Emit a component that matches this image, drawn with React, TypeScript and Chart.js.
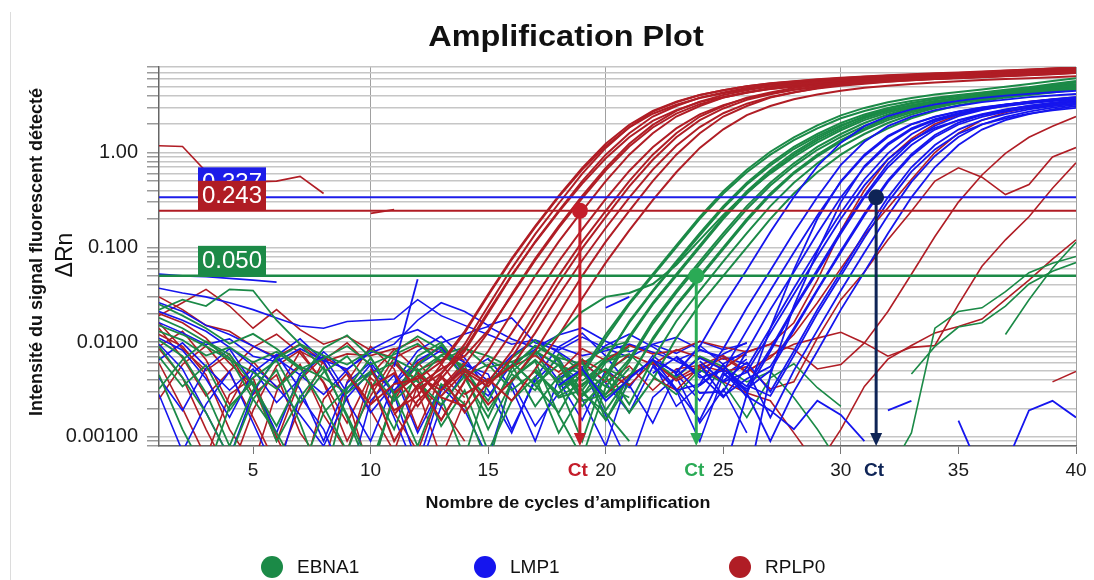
import React, { useEffect, useRef } from "react";
import { Chart, registerables } from "chart.js";

Chart.register(...registerables);

const FONT = '"Liberation Sans", Arial, Helvetica, sans-serif';

// ---------------- axes ----------------
const cycleRange = [1, 40];
const xTickValues = [5, 10, 15, 20, 25, 30, 35, 40];
const xGridValues = [10, 20, 30, 40];
const deltaRnRange = [0.0008, 8];
const yLabelValues = [1, 0.1, 0.01, 0.001];
const yLabelTexts = ["1.00", "0.100", "0.0100", "0.00100"];

// ---------------- legend / thresholds / Ct ----------------
const targets = ["EBNA1", "LMP1", "RPLP0"];
const thresholdTargets = ["LMP1", "RPLP0", "EBNA1"];
const thresholdValues = [0.337, 0.243, 0.05];
const thresholdTexts = ["0.337", "0.243", "0.050"];
const ctTargets = ["RPLP0", "EBNA1", "LMP1"];
const ctCycles = [18.9, 23.85, 31.5];
const ctLevels = [0.243, 0.05, 0.337];
const ctText = "Ct";

// ---------------- RPLP0 curves (ΔRn per cycle, from start cycle) ----------------
const rplp0Starts = [9, 10, 10, 11, 11, 11, 12, 12, 13, 13, 14, 14, 10, 13];
const rplp0Curves = [
  [0.0045, 0.0022, 0.0036, 0.0041, 0.0062, 0.013, 0.032, 0.076, 0.167, 0.35, 0.69, 1.24, 1.96, 2.75, 3.45, 4.05, 4.55, 5.0, 5.35, 5.62, 5.88, 6.1, 6.3, 6.48, 6.62, 6.78, 6.92, 7.1, 7.3, 7.5, 7.7, 7.9],
  [0.0052, 0.0019, 0.0027, 0.0058, 0.0125, 0.031, 0.074, 0.163, 0.34, 0.66, 1.17, 1.84, 2.57, 3.2, 3.76, 4.23, 4.65, 4.98, 5.23, 5.47, 5.67, 5.86, 6.03, 6.16, 6.31, 6.44, 6.6, 6.79, 6.98, 7.16, 7.35],
  [0.0038, 0.0009, 0.0024, 0.0041, 0.008, 0.02, 0.05, 0.115, 0.243, 0.5, 0.95, 1.6, 2.4, 3.1, 3.8, 4.3, 4.8, 5.2, 5.5, 5.75, 6.0, 6.2, 6.4, 6.55, 6.7, 6.85, 7.0, 7.2, 7.4, 7.6, 7.8],
  [0.0061, 0.0032, 0.0047, 0.0085, 0.021, 0.051, 0.113, 0.236, 0.47, 0.87, 1.45, 2.16, 2.8, 3.42, 3.87, 4.32, 4.68, 4.95, 5.18, 5.4, 5.58, 5.76, 5.9, 6.03, 6.17, 6.3, 6.48, 6.66, 6.84, 7.02],
  [0.0029, 0.0044, 0.0031, 0.0058, 0.0127, 0.032, 0.076, 0.167, 0.35, 0.69, 1.24, 1.96, 2.75, 3.45, 4.05, 4.55, 5.0, 5.35, 5.62, 5.88, 6.1, 6.3, 6.48, 6.62, 6.78, 6.92, 7.1, 7.3, 7.5, 7.7],
  [0.0017, 0.0035, 0.0052, 0.0071, 0.0133, 0.031, 0.073, 0.16, 0.33, 0.65, 1.16, 1.84, 2.58, 3.24, 3.8, 4.27, 4.7, 5.03, 5.28, 5.52, 5.73, 5.92, 6.09, 6.22, 6.37, 6.5, 6.67, 6.86, 7.05, 7.24],
  [0.0036, 0.0015, 0.0039, 0.008, 0.02, 0.05, 0.115, 0.243, 0.5, 0.95, 1.6, 2.4, 3.1, 3.8, 4.3, 4.8, 5.2, 5.5, 5.75, 6.0, 6.2, 6.4, 6.55, 6.7, 6.85, 7.0, 7.2, 7.4, 7.6],
  [0.0048, 0.0026, 0.0021, 0.0055, 0.0125, 0.03, 0.071, 0.155, 0.325, 0.64, 1.14, 1.8, 2.53, 3.17, 3.73, 4.19, 4.6, 4.92, 5.17, 5.41, 5.61, 5.8, 5.96, 6.09, 6.24, 6.37, 6.53, 6.72, 6.9],
  [0.0044, 0.0018, 0.0038, 0.008, 0.02, 0.05, 0.115, 0.243, 0.5, 0.95, 1.6, 2.4, 3.1, 3.8, 4.3, 4.8, 5.2, 5.5, 5.75, 6.0, 6.2, 6.4, 6.55, 6.7, 6.85, 7.0, 7.2, 7.4],
  [0.0031, 0.0052, 0.0037, 0.0055, 0.0125, 0.031, 0.073, 0.16, 0.335, 0.66, 1.18, 1.86, 2.6, 3.28, 3.85, 4.32, 4.75, 5.08, 5.34, 5.59, 5.8, 5.99, 6.16, 6.29, 6.44, 6.57, 6.75, 6.94],
  [0.0046, 0.0022, 0.0039, 0.008, 0.02, 0.05, 0.115, 0.243, 0.5, 0.95, 1.6, 2.4, 3.1, 3.8, 4.3, 4.8, 5.2, 5.5, 5.75, 6.0, 6.2, 6.4, 6.55, 6.7, 6.85, 7.0, 7.2],
  [0.0028, 0.0041, 0.0024, 0.0052, 0.0118, 0.029, 0.069, 0.151, 0.315, 0.62, 1.12, 1.76, 2.48, 3.1, 3.65, 4.1, 4.5, 4.82, 5.06, 5.29, 5.49, 5.67, 5.83, 5.96, 6.1, 6.23, 6.39],
  [0.0033, 0.0047, 0.0021, 0.0046, 0.0095, 0.024, 0.06, 0.138, 0.29, 0.6, 1.12, 1.85, 2.7, 3.4, 4.05, 4.55, 5.0, 5.38, 5.67, 5.93, 6.16, 6.36, 6.55, 6.71, 6.86, 7.01, 7.16, 7.34, 7.53, 7.72, 7.92],
  [0.0027, 0.0049, 0.0034, 0.0068, 0.017, 0.042, 0.098, 0.21, 0.44, 0.84, 1.45, 2.2, 2.92, 3.6, 4.12, 4.6, 5.0, 5.32, 5.58, 5.82, 6.03, 6.22, 6.38, 6.53, 6.68, 6.83, 7.02, 7.2],
];
const rplp0LateStarts = [18, 16, 20, 22, 19, 20, 39, 1, 10];
const rplp0Late = [
  [0.0045, 0.0062, 0.0038, 0.0056, 0.0031, 0.0052, 0.0057, 0.0049, 0.0055, 0.0032, 0.0038, 0.011, 0.028, 0.055, 0.12, 0.24, 0.5, 0.69, 0.55, 0.36, 0.46, 0.9, 1.13],
  [0.0055, 0.0072, 0.0048, 0.0085, 0.0064, 0.0092, 0.0075, 0.0081, 0.0102, 0.0088, 0.0079, 0.0095, 0.0084, 0.0052, 0.0058, 0.0098, 0.021, 0.052, 0.13, 0.3, 0.58, 0.98, 1.45, 1.9, 2.4],
  [0.0028, 0.0045, 0.0061, 0.0039, 0.0052, 0.0068, 0.0048, 0.0072, 0.0095, 0.011, 0.0127, 0.0098, 0.0071, 0.0088, 0.0092, 0.025, 0.063, 0.12, 0.21, 0.42, 0.78],
  [0.0042, 0.0031, 0.0055, 0.0038, 0.0029, 0.0024, 0.0011, 0.0005, 0.0012, 0.0034, 0.0066, 0.0092, 0.0125, 0.0146, 0.0175, 0.028, 0.045, 0.075, 0.12],
  [0.0065, 0.0048, 0.0074, 0.0058, 0.0083, 0.0069, 0.0052, 0.0078, 0.0095, 0.016, 0.045, 0.15, 0.4, 0.85, 1.4, 2.0, 2.5, 2.9, 3.2, 3.45, 3.65, 3.8],
  [0.0048, 0.0035, 0.0062, 0.0041, 0.0057, 0.0072, 0.0049, 0.0068, 0.012, 0.026, 0.06, 0.135, 0.26, 0.52, 1.0, 1.6, 2.2, 2.65, 3.0, 3.25, 3.45],
  [0.0038, 0.0049],
  [1.18, 1.16, 0.63, 0.52, 0.49, 0.5, 0.56, 0.37],
  [0.228, 0.25],
];
const rplp0Noise = [
  [0.02, 0.016, 0.011, 0.006, 0.0035, 0.0009, 0.004, 0.007, 0.005, 0.0022, 0.006, 0.004, 0.0015, 0.0038],
  [0.012, 0.009, 0.0045, 0.0012, 0.0005, 0.003, 0.008, 0.006, 0.0026, 0.0004, 0.003, 0.006, 0.009, 0.0048],
  [0.03, 0.022, 0.015, 0.013, 0.009, 0.007, 0.0095, 0.0062, 0.0075, 0.0072, 0.0085, 0.005, 0.0065, 0.0071],
  [0.006, 0.002, 0.0006, 0.0028, 0.0042, 0.001, 0.0003, 0.0025, 0.0047, 0.0019, 0.0007, 0.0035, 0.0021, 0.0009],
  [0.016, 0.0085, 0.005, 0.0075, 0.0028, 0.0045, 0.0011, 0.0005, 0.0038, 0.009, 0.0052, 0.0012, 0.0044, 0.0026],
  [0.009, 0.013, 0.0065, 0.0022, 0.0062, 0.0033, 0.0058, 0.0017, 0.0007, 0.0042, 0.0024, 0.0061, 0.0033, 0.0052],
  [0.019, 0.026, 0.036, 0.024, 0.014, 0.022, 0.0135, 0.0095, 0.0115, 0.0082, 0.0068, 0.0091, 0.0078, 0.0064],
  [0.0085, 0.0042, 0.0012, 0.0004, 0.0019, 0.0056, 0.0082, 0.0037, 0.0009, 0.0027, 0.0068, 0.0031, 0.0006, 0.0024],
  [0.0025, 0.0058, 0.0091, 0.0047, 0.0016, 0.0005, 0.0021, 0.0064, 0.0098, 0.0056, 0.0018, 0.0007, 0.0033, 0.0062],
  [0.014, 0.0068, 0.0027, 0.0049, 0.0088, 0.0121, 0.0076, 0.0038, 0.0014, 0.0045, 0.0083, 0.0107, 0.0059, 0.0028],
];

// ---------------- EBNA1 curves ----------------
const ebna1Starts = [17, 16, 17, 16, 18, 17, 18, 18, 19, 18, 19, 20, 17];
const ebna1Curves = [
  [0.0048, 0.0029, 0.0045, 0.011, 0.025, 0.05, 0.1, 0.2, 0.37, 0.62, 0.95, 1.35, 1.8, 2.3, 2.75, 3.15, 3.5, 3.8, 4.05, 4.3, 4.6, 4.9, 5.3, 5.7],
  [0.0062, 0.0035, 0.0018, 0.0049, 0.012, 0.026, 0.052, 0.105, 0.21, 0.39, 0.66, 1.02, 1.45, 1.94, 2.47, 2.96, 3.39, 3.77, 4.1, 4.37, 4.64, 4.96, 5.3, 5.68, 6.1],
  [0.0052, 0.0026, 0.0031, 0.0066, 0.0166, 0.035, 0.071, 0.141, 0.272, 0.48, 0.77, 1.15, 1.57, 2.05, 2.52, 2.95, 3.33, 3.65, 3.92, 4.17, 4.45, 4.75, 5.02, 5.5],
  [0.0041, 0.0065, 0.0038, 0.0034, 0.0068, 0.016, 0.034, 0.068, 0.134, 0.26, 0.46, 0.73, 1.09, 1.49, 1.95, 2.39, 2.8, 3.16, 3.47, 3.72, 3.96, 4.23, 4.51, 4.77, 5.1],
  [0.0044, 0.0021, 0.004, 0.011, 0.025, 0.05, 0.1, 0.2, 0.37, 0.62, 0.95, 1.35, 1.8, 2.3, 2.75, 3.15, 3.5, 3.8, 4.05, 4.3, 4.6, 4.9, 5.3],
  [0.0036, 0.0058, 0.0027, 0.0045, 0.0115, 0.026, 0.052, 0.105, 0.21, 0.39, 0.65, 1.0, 1.42, 1.89, 2.42, 2.89, 3.31, 3.68, 3.99, 4.25, 4.52, 4.83, 5.15, 5.56],
  [0.0033, 0.0049, 0.0034, 0.0066, 0.0166, 0.035, 0.071, 0.141, 0.272, 0.48, 0.77, 1.15, 1.57, 2.05, 2.52, 2.95, 3.33, 3.65, 3.92, 4.17, 4.45, 4.75, 5.02],
  [0.0057, 0.0024, 0.0028, 0.0062, 0.0155, 0.033, 0.066, 0.131, 0.253, 0.45, 0.72, 1.07, 1.46, 1.91, 2.34, 2.74, 3.1, 3.39, 3.65, 3.88, 4.14, 4.42, 4.67],
  [0.0047, 0.0026, 0.004, 0.011, 0.025, 0.05, 0.1, 0.2, 0.37, 0.62, 0.95, 1.35, 1.8, 2.3, 2.75, 3.15, 3.5, 3.8, 4.05, 4.3, 4.6, 4.9],
  [0.0039, 0.0061, 0.0019, 0.0043, 0.0105, 0.024, 0.048, 0.096, 0.19, 0.355, 0.6, 0.91, 1.3, 1.73, 2.2, 2.64, 3.02, 3.36, 3.65, 3.89, 4.13, 4.42, 4.7],
  [0.0035, 0.0052, 0.0022, 0.0066, 0.0166, 0.035, 0.071, 0.141, 0.272, 0.48, 0.77, 1.15, 1.57, 2.05, 2.52, 2.95, 3.33, 3.65, 3.92, 4.17, 4.45, 4.75],
  [0.0043, 0.0018, 0.004, 0.011, 0.025, 0.05, 0.1, 0.2, 0.37, 0.62, 0.95, 1.35, 1.8, 2.3, 2.75, 3.15, 3.5, 3.8, 4.05, 4.3, 4.6],
  [0.0075, 0.012, 0.021, 0.03, 0.033, 0.041, 0.065, 0.12, 0.22, 0.38, 0.6, 0.9, 1.28, 1.72, 2.2, 2.65, 3.05, 3.4, 3.7, 3.95, 4.2, 4.48, 4.78, 5.1],
];
const ebna1LateStarts = [22, 33, 37, 15];
const ebna1Late = [
  [0.0064, 0.0042, 0.0071, 0.0055, 0.0038, 0.0049, 0.0026, 0.0012, 0.0005, 0.0003, 0.0004, 0.0011, 0.014, 0.021, 0.023, 0.034, 0.054, 0.068, 0.08],
  [0.0046, 0.009, 0.0144, 0.016, 0.024, 0.041, 0.056, 0.069],
  [0.012, 0.028, 0.06, 0.113],
  [0.0065, 0.0048, 0.0081, 0.0057, 0.0039, 0.0062, 0.0075, 0.0044, 0.0028, 0.0051, 0.0037, 0.0016, 0.0042, 0.0059, 0.0033, 0.0021],
];
const ebna1Noise = [
  [0.015, 0.012, 0.009, 0.0065, 0.0048, 0.0032, 0.0055, 0.0042, 0.0029, 0.0046, 0.0061, 0.0038, 0.0022, 0.0044, 0.0058, 0.0031, 0.0049, 0.0027, 0.0036, 0.0052, 0.0041],
  [0.009, 0.0042, 0.0018, 0.0006, 0.0025, 0.0051, 0.0014, 0.0003, 0.0032, 0.0068, 0.0029, 0.0008, 0.0036, 0.0022, 0.0005, 0.0041, 0.0063, 0.0017, 0.0006, 0.0034, 0.0026],
  [0.022, 0.028, 0.024, 0.036, 0.035, 0.017, 0.0095, 0.0072, 0.0058, 0.0081, 0.0066, 0.0049, 0.0073, 0.0088, 0.0054, 0.0062, 0.0079, 0.0057, 0.0046, 0.0069, 0.0083],
  [0.0045, 0.0012, 0.0004, 0.0021, 0.0038, 0.0009, 0.0026, 0.0055, 0.0016, 0.0004, 0.0028, 0.0047, 0.0013, 0.0031, 0.0007, 0.0024, 0.0043, 0.0011, 0.0029, 0.0018, 0.0009],
  [0.013, 0.0105, 0.0072, 0.0088, 0.0061, 0.0079, 0.0052, 0.0067, 0.0091, 0.0058, 0.0074, 0.0096, 0.0063, 0.0085, 0.0071, 0.0054, 0.0092, 0.0068, 0.0059, 0.0087, 0.0102],
  [0.007, 0.0034, 0.0057, 0.0019, 0.0042, 0.0064, 0.0023, 0.0048, 0.0071, 0.0035, 0.0012, 0.0052, 0.0026, 0.0006, 0.0039, 0.0057, 0.0021, 0.0044, 0.0066, 0.0015, 0.0037],
  [0.018, 0.014, 0.01, 0.0068, 0.0025, 0.0011, 0.0004, 0.0018, 0.0033, 0.0049, 0.0024, 0.0041, 0.0072, 0.0056, 0.0019, 0.0046, 0.0031, 0.0075, 0.0048, 0.0028, 0.0053],
  [0.0105, 0.0071, 0.0029, 0.0008, 0.0031, 0.0067, 0.0094, 0.0052, 0.0017, 0.0005, 0.0026, 0.0071, 0.0099, 0.0046, 0.0012, 0.0038, 0.0077, 0.0035, 0.0009, 0.0048, 0.0072],
  [0.0032, 0.0065, 0.0102, 0.0074, 0.0035, 0.0013, 0.0041, 0.0086, 0.0118, 0.0069, 0.0028, 0.0057, 0.0093, 0.0051, 0.0024, 0.0068, 0.0105, 0.0062, 0.0031, 0.0015, 0.0044],
  [0.025, 0.019, 0.014, 0.0096, 0.0122, 0.0085, 0.0054, 0.0021, 0.0007, 0.0032, 0.0078, 0.0115, 0.0083, 0.0042, 0.0016, 0.0053, 0.0091, 0.0066, 0.0027, 0.0061, 0.0089],
];

// ---------------- LMP1 curves ----------------
const lmp1Starts = [21, 22, 22, 23, 23, 24, 24, 23, 25, 24, 25, 26, 26, 26, 26, 25];
const lmp1Curves = [
  [0.0042, 0.0065, 0.0048, 0.009, 0.024, 0.058, 0.145, 0.34, 0.72, 1.27, 1.9, 2.43, 2.86, 3.22, 3.52, 3.77, 3.98, 4.17, 4.33, 4.48],
  [0.0058, 0.0031, 0.0036, 0.0085, 0.023, 0.057, 0.143, 0.34, 0.74, 1.3, 1.9, 2.4, 2.8, 3.12, 3.4, 3.62, 3.84, 4.0, 4.15],
  [0.0047, 0.0069, 0.0042, 0.005, 0.0133, 0.035, 0.088, 0.217, 0.49, 0.92, 1.46, 1.98, 2.38, 2.7, 2.98, 3.2, 3.4, 3.58, 3.72],
  [0.0052, 0.0029, 0.003, 0.008, 0.022, 0.055, 0.14, 0.337, 0.7, 1.2, 1.75, 2.2, 2.55, 2.85, 3.1, 3.3, 3.5, 3.65],
  [0.0071, 0.0045, 0.0026, 0.0054, 0.014, 0.037, 0.094, 0.232, 0.52, 0.98, 1.56, 2.12, 2.55, 2.9, 3.2, 3.44, 3.66, 3.85],
  [0.0063, 0.0038, 0.0048, 0.0125, 0.032, 0.081, 0.2, 0.45, 0.85, 1.34, 1.82, 2.19, 2.48, 2.74, 2.94, 3.13, 3.29],
  [0.0035, 0.0057, 0.003, 0.008, 0.022, 0.055, 0.14, 0.337, 0.7, 1.2, 1.75, 2.2, 2.55, 2.85, 3.1, 3.3, 3.5],
  [0.0044, 0.0068, 0.0051, 0.0034, 0.0085, 0.023, 0.058, 0.148, 0.35, 0.76, 1.32, 1.92, 2.42, 2.8, 3.13, 3.41, 3.63, 3.85],
  [0.0046, 0.0032, 0.005, 0.0133, 0.035, 0.088, 0.217, 0.49, 0.92, 1.46, 1.98, 2.38, 2.7, 2.98, 3.2, 3.4],
  [0.0058, 0.0027, 0.0041, 0.0055, 0.014, 0.036, 0.092, 0.227, 0.51, 0.96, 1.53, 2.07, 2.5, 2.83, 3.12, 3.36, 3.57],
  [0.0039, 0.0061, 0.003, 0.008, 0.022, 0.055, 0.14, 0.337, 0.7, 1.2, 1.75, 2.2, 2.55, 2.85, 3.1, 3.3],
  [0.0035, 0.0027, 0.0072, 0.02, 0.05, 0.126, 0.3, 0.63, 1.08, 1.58, 1.98, 2.3, 2.57, 2.79, 2.97],
  [0.0051, 0.0016, 0.005, 0.0133, 0.035, 0.088, 0.217, 0.49, 0.92, 1.46, 1.98, 2.38, 2.7, 2.98, 3.2],
  [0.0029, 0.0009, 0.003, 0.008, 0.022, 0.055, 0.14, 0.337, 0.7, 1.2, 1.75, 2.2, 2.55, 2.85, 3.1],
  [0.0003, 0.0045, 0.024, 0.09, 0.3, 0.72, 1.25, 1.8, 2.25, 2.6, 2.9, 3.15, 3.36, 3.55, 3.7],
  [0.0004, 0.0028, 0.014, 0.058, 0.2, 0.5, 0.95, 1.5, 2.0, 2.4, 2.72, 3.0, 3.22, 3.42, 3.6, 3.75],
];
const lmp1FragmentStarts = [1, 11, 20, 32, 35, 37, 18];
const lmp1Fragments = [
  [0.052, 0.05, 0.049, 0.047, 0.045, 0.043],
  [0.0055, 0.046],
  [0.023, 0.03],
  [0.0019, 0.0024],
  [0.00148, 0.0004],
  [0.0005, 0.0019, 0.0024, 0.0016],
  [0.0035, 0.0052, 0.0024, 0.0041, 0.0066, 0.0032, 0.0015, 0.0048, 0.0027, 0.0019, 0.0012, 0.0024, 0.0017, 0.0009],
];
const lmp1Noise = [
  [0.037, 0.033, 0.03, 0.026, 0.022, 0.018, 0.0148, 0.014, 0.0165, 0.017, 0.0175, 0.028, 0.019, 0.015, 0.012, 0.0095, 0.0105, 0.0088, 0.0072, 0.0081, 0.0095, 0.0078, 0.0064, 0.0082, 0.007, 0.0058],
  [0.011, 0.0082, 0.0041, 0.0016, 0.0048, 0.0074, 0.0032, 0.0009, 0.0037, 0.0061, 0.0028, 0.0005, 0.0031, 0.0057, 0.0046, 0.0012, 0.0039, 0.0068, 0.0025, 0.0008, 0.0044, 0.0062, 0.0021, 0.0035, 0.0053, 0.0029],
  [0.0065, 0.0098, 0.0055, 0.0031, 0.0052, 0.0023, 0.0041, 0.0079, 0.0047, 0.0018, 0.0036, 0.0064, 0.0088, 0.0043, 0.0027, 0.0058, 0.0084, 0.0039, 0.0015, 0.0051, 0.0033, 0.0072, 0.0046, 0.0024, 0.0059, 0.0081],
  [0.0028, 0.0007, 0.0022, 0.0049, 0.0014, 0.0004, 0.0027, 0.0012, 0.0003, 0.0024, 0.0045, 0.0011, 0.0034, 0.0019, 0.0006, 0.0038, 0.0013, 0.0029, 0.0052, 0.0017, 0.0005, 0.0026, 0.0043, 0.0014, 0.0032, 0.0011],
  [0.016, 0.0125, 0.0094, 0.0108, 0.0071, 0.0062, 0.0085, 0.0064, 0.0052, 0.0077, 0.0095, 0.017, 0.026, 0.021, 0.015, 0.018, 0.0098, 0.0082, 0.0113, 0.0086, 0.0069, 0.0094, 0.0076, 0.0102, 0.0083, 0.0097],
  [0.0042, 0.0019, 0.0053, 0.0085, 0.0036, 0.0011, 0.0046, 0.0071, 0.0029, 0.0058, 0.0016, 0.0004, 0.0021, 0.0048, 0.0067, 0.0033, 0.0009, 0.0041, 0.0063, 0.0037, 0.0018, 0.0055, 0.0031, 0.0009, 0.0044, 0.0066],
  [0.021, 0.017, 0.013, 0.0088, 0.0056, 0.0034, 0.0017, 0.0008, 0.0026, 0.0049, 0.0031, 0.0057, 0.0082, 0.0061, 0.0039, 0.0072, 0.0105, 0.0078, 0.0054, 0.0092, 0.0121, 0.0089, 0.0063, 0.0048, 0.0075, 0.0099],
  [0.0095, 0.0052, 0.0018, 0.0006, 0.0029, 0.0072, 0.0108, 0.0063, 0.0024, 0.0009, 0.0037, 0.0081, 0.0115, 0.0068, 0.0031, 0.0011, 0.0042, 0.0089, 0.0124, 0.0071, 0.0035, 0.0014, 0.0047, 0.0092, 0.0058, 0.0026],
  [0.026, 0.021, 0.015, 0.012, 0.0091, 0.0067, 0.0045, 0.0028, 0.0051, 0.0083, 0.0112, 0.0135, 0.0098, 0.0122, 0.0146, 0.0108, 0.0087, 0.0119, 0.0141, 0.0102, 0.0079, 0.0095, 0.0112, 0.0084, 0.0066, 0.0073],
];

// ---------------- styles ----------------
const lineColors: Record<string, string> = { EBNA1: "#1b8a47", LMP1: "#1515ee", RPLP0: "#b01d25" };
const thresholdColors: Record<string, string> = { EBNA1: "#1c8a47", LMP1: "#1d1de8", RPLP0: "#b01c24" };
const ctColors: Record<string, string> = { RPLP0: "#c41d2a", EBNA1: "#2aaa55", LMP1: "#0e2456" };

const pts = (start: number, vals: number[]) => vals.map((v, i) => ({ x: start + i, y: v }));

function group(starts: number[], curves: number[][], target: string, width: number) {
  return curves.map((vals, i) => ({
    data: pts(starts[i], vals),
    borderColor: lineColors[target],
    borderWidth: width,
    pointRadius: 0,
    tension: 0,
    fill: false,
  }));
}

const annotationPlugin = {
  id: "qpcrAnnotations",
  afterDatasetsDraw(chart: any) {
    const { ctx, chartArea, scales } = chart;
    const xs = scales.x;
    const ys = scales.y;
    ctx.save();
    thresholdValues.forEach((v, i) => {
      const py = ys.getPixelForValue(v);
      const left = chartArea.left + 39;
      ctx.fillStyle = thresholdColors[thresholdTargets[i]];
      ctx.fillRect(left, py - 30, 68, 30);
      ctx.fillStyle = "#ffffff";
      ctx.font = `24px ${FONT}`;
      ctx.textAlign = "center";
      ctx.textBaseline = "middle";
      ctx.fillText(thresholdTexts[i], left + 34, py - 14);
    });
    ctCycles.forEach((c, i) => {
      const px = xs.getPixelForValue(c);
      const py = ys.getPixelForValue(ctLevels[i]);
      const bottom = chartArea.bottom;
      const col = ctColors[ctTargets[i]];
      ctx.strokeStyle = col;
      ctx.fillStyle = col;
      ctx.lineWidth = 3;
      ctx.beginPath();
      ctx.moveTo(px, py);
      ctx.lineTo(px, bottom - 10);
      ctx.stroke();
      ctx.beginPath();
      ctx.moveTo(px - 6, bottom - 13);
      ctx.lineTo(px + 6, bottom - 13);
      ctx.lineTo(px, bottom);
      ctx.closePath();
      ctx.fill();
      ctx.beginPath();
      ctx.arc(px, py, 8, 0, Math.PI * 2);
      ctx.fill();
    });
    ctx.restore();
  },
  afterDraw(chart: any) {
    const { ctx, chartArea, scales } = chart;
    ctx.save();
    ctx.font = `bold 19px ${FONT}`;
    ctx.textAlign = "center";
    ctx.textBaseline = "middle";
    ctCycles.forEach((c, i) => {
      const px = scales.x.getPixelForValue(c);
      ctx.fillStyle = ctColors[ctTargets[i]];
      ctx.fillText(ctText, px - 2, chartArea.bottom + 25);
    });
    ctx.restore();
  },
};

export default function App() {
  const ref = useRef<HTMLCanvasElement | null>(null);

  useEffect(() => {
    if (!ref.current) return;
    Chart.defaults.font.family = FONT;

    const bottomToTop: any[] = [
      ...group(Array(rplp0Noise.length).fill(1), rplp0Noise, "RPLP0", 1.6),
      ...group(Array(lmp1Noise.length).fill(1), lmp1Noise, "LMP1", 1.6),
      ...group(Array(ebna1Noise.length).fill(1), ebna1Noise, "EBNA1", 1.8),
      ...group(rplp0LateStarts, rplp0Late, "RPLP0", 1.6),
      ...group(ebna1LateStarts, ebna1Late, "EBNA1", 1.6),
      ...group(rplp0Starts, rplp0Curves, "RPLP0", 2),
      ...group(ebna1Starts, ebna1Curves, "EBNA1", 2),
      ...group(lmp1Starts, lmp1Curves, "LMP1", 1.8),
      ...group(lmp1FragmentStarts, lmp1Fragments, "LMP1", 1.8),
      ...thresholdValues.map((v, i) => ({
        data: [{ x: cycleRange[0], y: v }, { x: cycleRange[1], y: v }],
        borderColor: thresholdColors[thresholdTargets[i]],
        borderWidth: thresholdTargets[i] === "EBNA1" ? 2.5 : 2,
        pointRadius: 0,
        tension: 0,
        fill: false,
      })),
    ];
    const datasets = bottomToTop.reverse();

    const yGrid: number[] = [];
    for (let e = -4; e <= 0; e++) {
      for (let m = 1; m <= 9; m++) {
        const v = Number((m * Math.pow(10, e)).toPrecision(6));
        if (v >= deltaRnRange[0] * 0.999 && v <= deltaRnRange[1] * 1.001) yGrid.push(v);
      }
    }

    const chart = new Chart(ref.current, {
      type: "line",
      data: { datasets },
      plugins: [annotationPlugin],
      options: {
        animation: false,
        responsive: false,
        events: [],
        layout: { padding: { left: 49, top: 67, right: 18, bottom: 94 } },
        plugins: { legend: { display: false }, title: { display: false }, tooltip: { enabled: false } },
        scales: {
          x: {
            type: "linear",
            min: cycleRange[0],
            max: cycleRange[1],
            afterFit: (s: any) => {
              s.height = 40;
            },
            afterBuildTicks: (s: any) => {
              s.ticks = xTickValues.map((v) => ({ value: v }));
            },
            grid: {
              color: (c: any) => (c.tick && xGridValues.includes(c.tick.value) ? "#a0a0a0" : "rgba(0,0,0,0)"),
              lineWidth: 1,
              tickLength: 8,
              tickColor: "#777777",
              drawTicks: true,
            },
            border: { color: "#666666", width: 1.5 },
            ticks: { font: { size: 19, family: FONT }, color: "#1a1a1a", padding: 5, maxRotation: 0, autoSkip: false },
          },
          y: {
            type: "logarithmic",
            min: deltaRnRange[0],
            max: deltaRnRange[1],
            afterFit: (s: any) => {
              s.width = 110;
            },
            afterBuildTicks: (s: any) => {
              s.ticks = yGrid.map((v) => ({ value: v }));
            },
            grid: { color: "#c6c6c6", lineWidth: 1.5, tickLength: 12, tickColor: "#9a9a9a" },
            border: { color: "#666666", width: 1.5 },
            ticks: {
              font: { size: 20, family: FONT },
              color: "#1a1a1a",
              padding: 9,
              autoSkip: false,
              callback: (value: any) => {
                const idx = yLabelValues.findIndex((v) => Math.abs(v - Number(value)) < v * 1e-6);
                return idx >= 0 ? yLabelTexts[idx] : "";
              },
            },
          },
        },
      } as any,
    });
    return () => chart.destroy();
  }, []);

  const legendX = [272, 485, 740];

  return (
    <div style={{ position: "absolute", left: 0, top: 0, width: 1094, height: 580, background: "#ffffff", overflow: "hidden", fontFamily: FONT }}>
      <div style={{ position: "absolute", left: 10, top: 12, width: 1, height: 568, background: "#dcdcdc" }} />
      <canvas ref={ref} width={1094} height={580} style={{ position: "absolute", left: 0, top: 0, width: 1094, height: 580 }} />
      <div style={{ position: "absolute", left: 566, top: 36, transform: "translate(-50%, -50%) scaleX(1.08)", fontSize: 30, fontWeight: "bold", whiteSpace: "nowrap", color: "#111" }}>
        Amplification Plot
      </div>
      <div style={{ position: "absolute", left: 36, top: 252, transform: "translate(-50%, -50%) rotate(-90deg)", fontSize: 18, fontWeight: "bold", whiteSpace: "nowrap", color: "#111" }}>
        Intensité du signal fluorescent détecté
      </div>
      <div style={{ position: "absolute", left: 64, top: 255, transform: "translate(-50%, -50%) rotate(-90deg)", fontSize: 23, whiteSpace: "nowrap", color: "#111" }}>
        ΔRn
      </div>
      <div style={{ position: "absolute", left: 568, top: 503, transform: "translate(-50%, -50%) scaleX(1.12)", fontSize: 16, fontWeight: "bold", whiteSpace: "nowrap", color: "#111" }}>
        Nombre de cycles d’amplification
      </div>
      {targets.map((t, i) => (
        <React.Fragment key={t}>
          <div style={{ position: "absolute", left: legendX[i] - 11, top: 556, width: 22, height: 22, borderRadius: "50%", background: lineColors[t] }} />
          <div style={{ position: "absolute", left: legendX[i] + 25, top: 567, transform: "translateY(-50%)", fontSize: 19, whiteSpace: "nowrap", color: "#111" }}>
            {t}
          </div>
        </React.Fragment>
      ))}
    </div>
  );
}
